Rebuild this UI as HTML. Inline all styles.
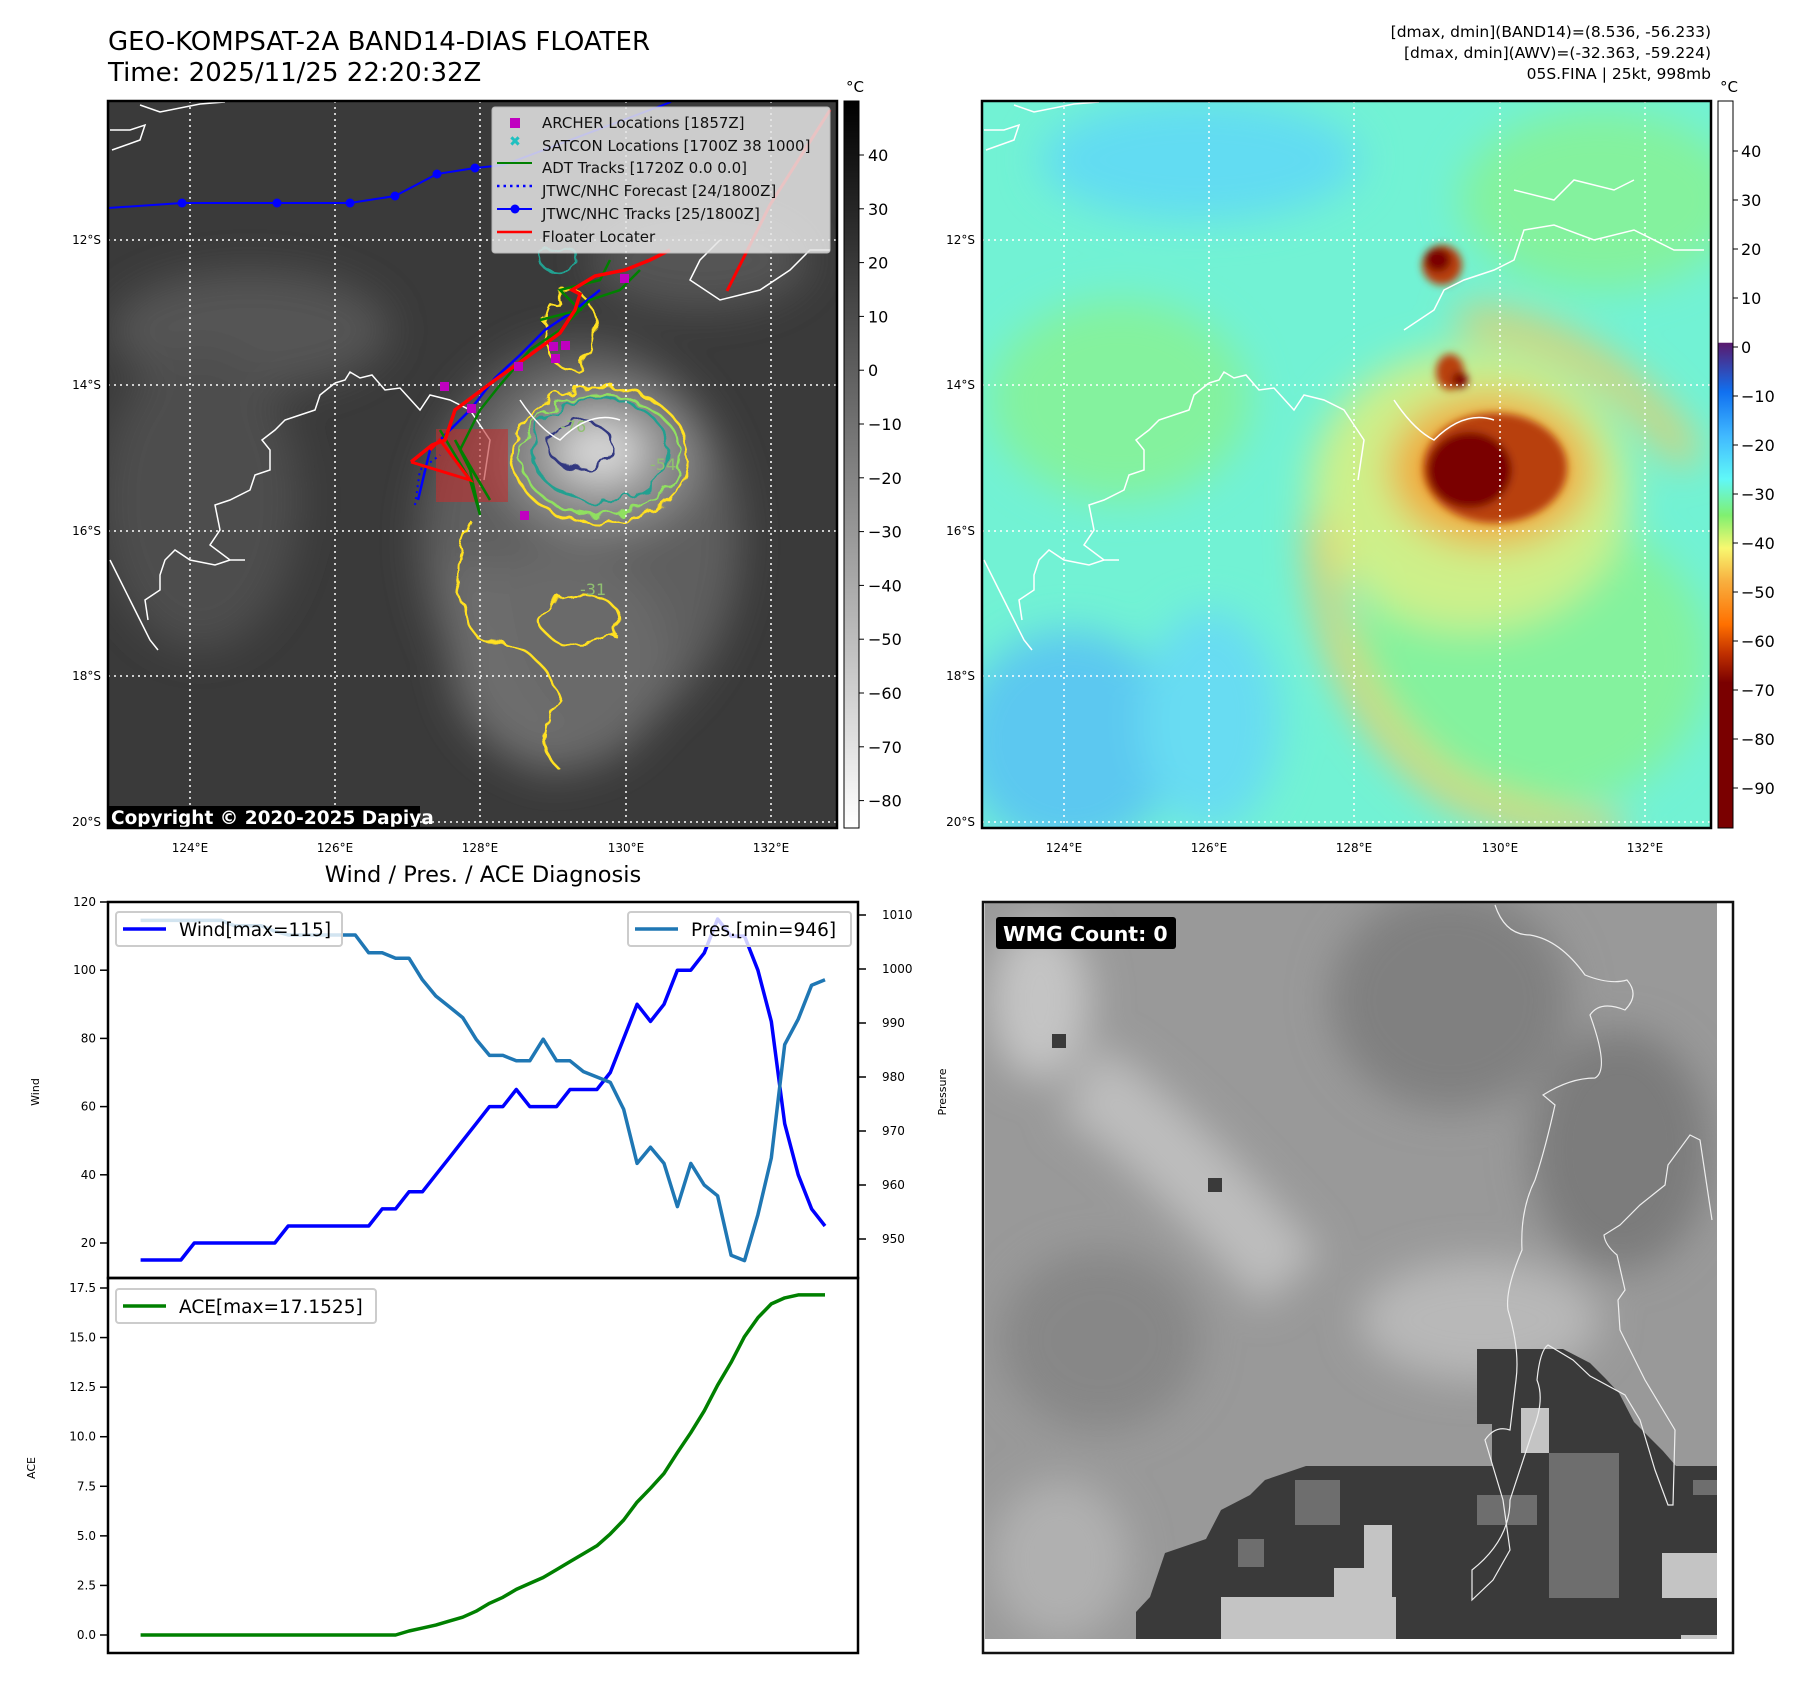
<!DOCTYPE html>
<html><head><meta charset="utf-8"><style>
html,body{margin:0;padding:0;background:#fff;}
svg{display:block;font-family:"DejaVu Sans","Liberation Sans",sans-serif;}
</style></head><body>
<svg id="root" width="1801" height="1690" viewBox="0 0 1801 1690" xmlns="http://www.w3.org/2000/svg">
<defs>
  <filter id="blur20" x="-50%" y="-50%" width="200%" height="200%"><feGaussianBlur stdDeviation="20"/></filter>
  <filter id="blur8" x="-50%" y="-50%" width="200%" height="200%"><feGaussianBlur stdDeviation="8"/></filter>
  <filter id="blur4" x="-50%" y="-50%" width="200%" height="200%"><feGaussianBlur stdDeviation="4"/></filter>
  <filter id="wobble" x="-20%" y="-20%" width="140%" height="140%"><feTurbulence type="fractalNoise" baseFrequency="0.06" numOctaves="2" seed="3"/><feDisplacementMap in="SourceGraphic" scale="16"/></filter>
  <clipPath id="clipL"><rect x="108" y="101" width="729" height="727"/></clipPath>
  <clipPath id="clipR"><rect x="982" y="101" width="729" height="727"/></clipPath>
  <clipPath id="clipB"><rect x="985" y="903" width="732" height="736"/></clipPath>
  <linearGradient id="cbGray" x1="0" y1="0" x2="0" y2="1"><stop offset="0" stop-color="#000"/><stop offset="1" stop-color="#fff"/></linearGradient>
  <linearGradient id="cbJet" x1="0" y1="0" x2="0" y2="1">
    <stop offset="0" stop-color="#fff"/><stop offset="0.332" stop-color="#fff"/>
    <stop offset="0.333" stop-color="#5a1a6e"/>
    <stop offset="0.40" stop-color="#1070f0"/>
    <stop offset="0.46" stop-color="#40b8ff"/>
    <stop offset="0.52" stop-color="#60f8f8"/>
    <stop offset="0.57" stop-color="#80f070"/>
    <stop offset="0.615" stop-color="#f8f870"/>
    <stop offset="0.66" stop-color="#f8b040"/>
    <stop offset="0.72" stop-color="#ff7000"/>
    <stop offset="0.76" stop-color="#c03000"/>
    <stop offset="0.80" stop-color="#7a0000"/>
    <stop offset="1" stop-color="#7a0000"/>
  </linearGradient>
</defs>

<!-- Titles -->
<text x="108" y="50" font-size="26">GEO-KOMPSAT-2A BAND14-DIAS FLOATER</text>
<text x="108" y="81" font-size="26">Time: 2025/11/25 22:20:32Z</text>
<g font-size="15.5" text-anchor="end">
<text x="1711" y="37">[dmax, dmin](BAND14)=(8.536, -56.233)</text>
<text x="1711" y="58">[dmax, dmin](AWV)=(-32.363, -59.224)</text>
<text x="1711" y="79">05S.FINA | 25kt, 998mb</text>
</g>

<!-- LEFT MAP -->
<g clip-path="url(#clipL)">
  <rect x="108" y="101" width="729" height="727" fill="#3a3a3a"/>
  <g filter="url(#blur20)">
    <ellipse cx="250" cy="330" rx="140" ry="60" fill="#555"/>
    <ellipse cx="200" cy="500" rx="100" ry="150" fill="#4e4e4e"/>
    <ellipse cx="580" cy="540" rx="160" ry="200" fill="#5e5e5e"/>
    <ellipse cx="560" cy="660" rx="110" ry="110" fill="#6a6a6a"/>
    <ellipse cx="600" cy="460" rx="100" ry="75" fill="#8a8a8a"/>
    <ellipse cx="600" cy="452" rx="45" ry="32" fill="#d8d8d8"/>
    <ellipse cx="700" cy="260" rx="110" ry="50" fill="#555"/>
    <path d="M470 560 Q470 700 560 760" stroke="#6e6e6e" stroke-width="40" fill="none"/>
  </g>
  <g fill="none" stroke-width="2.5" filter="url(#wobble)">
    <ellipse cx="600" cy="455" rx="88" ry="68" stroke="#ffe020"/>
    <ellipse cx="600" cy="455" rx="80" ry="60" stroke="#90e060"/>
    <ellipse cx="600" cy="450" rx="68" ry="52" stroke="#20a090"/>
    <ellipse cx="580" cy="445" rx="32" ry="24" stroke="#303880"/>
    <path d="M470 520 Q440 580 480 640 Q540 640 560 700 Q530 740 560 770" stroke="#ffe020"/>
    <ellipse cx="580" cy="620" rx="40" ry="25" stroke="#ffe020"/>
    <ellipse cx="570" cy="330" rx="25" ry="40" stroke="#ffe020"/>
    <ellipse cx="560" cy="260" rx="20" ry="12" stroke="#20a090"/>
  </g>
  <g fill="#90c070" font-size="16"><text x="560" y="432">-76</text><text x="650" y="470">-54</text><text x="580" y="595">-31</text></g>
  <g fill="none" stroke="#fff" stroke-width="1.5">
    <path d="M140 105 L160 112 L200 104 L225 102"/><path d="M112 150 L140 140 L145 125 L130 130 L110 130"/>
    <path d="M335 383 L345 380 L350 372 L360 378 L372 375 L385 390 L400 388 L420 410 L430 395 L450 400 L470 410 L480 425 L490 440 L484 480"/>
    <path d="M335 383 L320 395 L315 410 L300 415 L285 420 L275 430 L262 440 L270 450 L270 470 L255 475 L250 490 L230 500 L215 505 L220 530 L210 545 L230 560 L245 560"/>
    <path d="M230 560 L215 565 L190 560 L175 550 L165 560 L160 575 L160 590 L145 600 L148 620"/>
    <path d="M110 560 L120 580 L130 600 L140 620 L150 640 L158 650"/>
    <path d="M520 400 Q540 430 560 440 Q590 410 620 420"/>
    <path d="M720 240 L700 260 L690 280 L720 300 L760 290 L790 270 L810 250 L830 250"/>
  </g>
  <g stroke="#fff" stroke-width="1.5" stroke-dasharray="2,4">
    <line x1="190" y1="101" x2="190" y2="828"/><line x1="335" y1="101" x2="335" y2="828"/><line x1="480" y1="101" x2="480" y2="828"/><line x1="626" y1="101" x2="626" y2="828"/><line x1="771" y1="101" x2="771" y2="828"/>
    <line x1="108" y1="240" x2="837" y2="240"/><line x1="108" y1="385" x2="837" y2="385"/><line x1="108" y1="531" x2="837" y2="531"/><line x1="108" y1="676" x2="837" y2="676"/><line x1="108" y1="822" x2="837" y2="822"/>
  </g>
  <rect x="436" y="429" width="72" height="73" fill="#c03030" opacity="0.6"/>
  <polyline points="108,208 182,203 277,203 350,203 395,196 437,174 475,168 504,165 671,102" fill="none" stroke="#0000ff" stroke-width="2"/>
  <g fill="#0000ff"><circle cx="182" cy="203" r="4.5"/><circle cx="277" cy="203" r="4.5"/><circle cx="350" cy="203" r="4.5"/><circle cx="395" cy="196" r="4.5"/><circle cx="437" cy="174" r="4.5"/><circle cx="475" cy="168" r="4.5"/></g>
  <polyline points="418,500 430,450 450,430 470,410 495,378 520,355 545,330 575,310 600,290" fill="none" stroke="#0000ff" stroke-width="2.5"/>
  <polyline points="415,505 420,470 440,455" fill="none" stroke="#0000ff" stroke-width="2" stroke-dasharray="2,4"/>
  <g fill="none" stroke="#008000" stroke-width="2.5">
    <polyline points="440,430 470,480 480,515 470,470 455,440 490,500 460,450 480,410 500,385 530,350 560,330 590,300 620,290 640,270"/>
    <polyline points="540,320 580,310 560,290 600,280 610,260"/>
  </g>
  <polyline points="411,462 432,445 445,440 455,410 475,395 495,380 530,355 560,333 575,310 580,294 572,290 595,276 625,270 650,260 670,250" fill="none" stroke="#ff0000" stroke-width="3.5"/>
  <polyline points="411,462 470,480 440,440 430,450" fill="none" stroke="#ff0000" stroke-width="3"/>
  <polyline points="727,291 770,205 830,110" fill="none" stroke="#ff0000" stroke-width="3"/>
  <g fill="#c000c0"><rect x="440" y="382" width="9" height="9"/><rect x="514" y="362" width="9" height="9"/><rect x="549" y="342" width="9" height="9"/><rect x="561" y="341" width="9" height="9"/><rect x="551" y="354" width="9" height="9"/><rect x="620" y="274" width="9" height="9"/><rect x="520" y="511" width="9" height="9"/><rect x="467" y="404" width="9" height="9"/></g>
  <rect x="108" y="806" width="312" height="24" fill="#000"/>
  <text x="111" y="824" font-size="18.5" font-weight="bold" fill="#fff">Copyright © 2020-2025 Dapiya</text>
  <g>
    <rect x="492" y="107" width="338" height="146" rx="3" fill="#e6e6e6" opacity="0.85" stroke="#ccc"/>
    <rect x="510" y="118" width="10" height="10" fill="#c000c0"/>
    <text x="515" y="146" font-size="14" fill="#20c0c0" text-anchor="middle" font-weight="bold">✖</text>
    <line x1="497" y1="163" x2="532" y2="163" stroke="#008000" stroke-width="2"/>
    <line x1="497" y1="186" x2="532" y2="186" stroke="#0000ff" stroke-width="2.5" stroke-dasharray="2.5,4"/>
    <line x1="497" y1="209" x2="532" y2="209" stroke="#0000ff" stroke-width="2"/><circle cx="515" cy="209" r="4.5" fill="#0000ff"/>
    <line x1="497" y1="232" x2="532" y2="232" stroke="#ff0000" stroke-width="2.5"/>
    <g font-size="15" fill="#111">
      <text x="542" y="128">ARCHER Locations [1857Z]</text>
      <text x="542" y="151">SATCON Locations [1700Z 38 1000]</text>
      <text x="542" y="173">ADT Tracks [1720Z 0.0 0.0]</text>
      <text x="542" y="196">JTWC/NHC Forecast [24/1800Z]</text>
      <text x="542" y="219">JTWC/NHC Tracks [25/1800Z]</text>
      <text x="542" y="242">Floater Locater</text>
    </g>
  </g>
</g>
<rect x="108" y="101" width="729" height="727" fill="none" stroke="#000" stroke-width="2.5"/>

<!-- RIGHT MAP -->
<g clip-path="url(#clipR)">
  <rect x="982" y="101" width="729" height="727" fill="#72f2d4"/>
  <g filter="url(#blur20)">
    <ellipse cx="1200" cy="160" rx="160" ry="60" fill="#62dcf2"/>
    <ellipse cx="1070" cy="740" rx="110" ry="110" fill="#5cc8f0"/>
    <ellipse cx="1210" cy="720" rx="70" ry="110" fill="#68dcf2"/>
    <ellipse cx="1120" cy="400" rx="130" ry="100" fill="#84f29e"/>
    <ellipse cx="1600" cy="200" rx="140" ry="90" fill="#84f29e"/>
    <ellipse cx="1530" cy="660" rx="180" ry="150" fill="#84f29e"/>
    <ellipse cx="1470" cy="490" rx="160" ry="140" fill="#cdf08a"/>
    <path d="M1320 520 Q1320 700 1450 790 Q1530 830 1620 830" stroke="#f0c860" stroke-width="24" fill="none"/>
    <path d="M1460 320 Q1600 330 1690 460" stroke="#f0c860" stroke-width="26" fill="none"/>
    <ellipse cx="1490" cy="470" rx="100" ry="75" fill="#f0a838"/>
  </g>
  <g filter="url(#blur4)">
    <ellipse cx="1495" cy="468" rx="72" ry="55" fill="#b84010"/>
    <ellipse cx="1470" cy="470" rx="42" ry="38" fill="#7a0000"/>
    <ellipse cx="1442" cy="265" rx="20" ry="20" fill="#b84010"/>
    <ellipse cx="1438" cy="260" rx="13" ry="12" fill="#7a0000"/>
    <ellipse cx="1450" cy="372" rx="14" ry="18" fill="#b84010"/>
    <ellipse cx="1460" cy="380" rx="8" ry="8" fill="#7a0000"/>
  </g>
  <g fill="none" stroke="#fff" stroke-width="1.5" transform="translate(874,0)">
    <path d="M140 105 L160 112 L200 104 L225 102"/><path d="M112 150 L140 140 L145 125 L130 130 L110 130"/>
    <path d="M335 383 L345 380 L350 372 L360 378 L372 375 L385 390 L400 388 L420 410 L430 395 L450 400 L470 410 L480 425 L490 440 L484 480"/>
    <path d="M335 383 L320 395 L315 410 L300 415 L285 420 L275 430 L262 440 L270 450 L270 470 L255 475 L250 490 L230 500 L215 505 L220 530 L210 545 L230 560 L245 560"/>
    <path d="M230 560 L215 565 L190 560 L175 550 L165 560 L160 575 L160 590 L145 600 L148 620"/>
    <path d="M110 560 L120 580 L130 600 L140 620 L150 640 L158 650"/>
    <path d="M520 400 Q540 430 560 440 Q590 410 620 420"/>
    <path d="M530 330 L560 310 L570 290 L590 280 L620 270 L640 260 L650 230 L680 225 L720 240 L760 230 L800 250 L830 250"/>
    <path d="M640 190 L680 200 L700 180 L740 190 L760 180"/>
  </g>
  <g stroke="#fff" stroke-width="1.5" stroke-dasharray="2,4" transform="translate(874,0)">
    <line x1="190" y1="101" x2="190" y2="828"/><line x1="335" y1="101" x2="335" y2="828"/><line x1="480" y1="101" x2="480" y2="828"/><line x1="626" y1="101" x2="626" y2="828"/><line x1="771" y1="101" x2="771" y2="828"/>
    <line x1="108" y1="240" x2="837" y2="240"/><line x1="108" y1="385" x2="837" y2="385"/><line x1="108" y1="531" x2="837" y2="531"/><line x1="108" y1="676" x2="837" y2="676"/><line x1="108" y1="822" x2="837" y2="822"/>
  </g>
</g>
<rect x="982" y="101" width="729" height="727" fill="none" stroke="#000" stroke-width="2.5"/>

<g font-size="12" fill="#000">
  <g text-anchor="end"><text x="101" y="244">12°S</text><text x="101" y="389">14°S</text><text x="101" y="535">16°S</text><text x="101" y="680">18°S</text><text x="101" y="826">20°S</text>
  <text x="975" y="244">12°S</text><text x="975" y="389">14°S</text><text x="975" y="535">16°S</text><text x="975" y="680">18°S</text><text x="975" y="826">20°S</text></g>
  <g text-anchor="middle"><text x="190" y="852">124°E</text><text x="335" y="852">126°E</text><text x="480" y="852">128°E</text><text x="626" y="852">130°E</text><text x="771" y="852">132°E</text>
  <text x="1064" y="852">124°E</text><text x="1209" y="852">126°E</text><text x="1354" y="852">128°E</text><text x="1500" y="852">130°E</text><text x="1645" y="852">132°E</text></g>
</g>

<g id="cbL"><rect x="844" y="101" width="15" height="727" fill="url(#cbGray)" stroke="#000" stroke-width="1"/><text x="855" y="92" font-size="15" text-anchor="middle">°C</text></g>
<g id="cbR"><rect x="1718" y="101" width="15" height="727" fill="url(#cbJet)" stroke="#000" stroke-width="1"/><text x="1729" y="92" font-size="15" text-anchor="middle">°C</text></g>

<g>
  <g clip-path="url(#clipB)">
    <rect x="985" y="903" width="732" height="736" fill="#999"/>
    <g filter="url(#blur20)">
      <ellipse cx="1040" cy="1000" rx="50" ry="80" fill="#c4c4c4"/>
      <path d="M1080 1080 Q1150 1120 1290 1280" stroke="#bdbdbd" stroke-width="80" fill="none"/>
      <ellipse cx="1450" cy="1000" rx="120" ry="110" fill="#808080"/>
      <ellipse cx="1620" cy="1150" rx="90" ry="120" fill="#7c7c7c"/>
      <ellipse cx="1100" cy="1340" rx="100" ry="90" fill="#878787"/>
      <ellipse cx="1480" cy="1320" rx="120" ry="60" fill="#b8b8b8"/>
      <ellipse cx="1060" cy="1560" rx="70" ry="80" fill="#b0b0b0"/>
    </g>
    <path d="M1136 1639 L1136 1612 L1150 1597 L1165 1553 L1206 1539 L1221 1510 L1250 1495 L1265 1480 L1306 1466 L1492 1466 L1492 1424 L1477 1424 L1477 1349 L1563 1349 L1590 1363 L1605 1378 L1619 1393 L1634 1422 L1649 1437 L1663 1451 L1676 1466 L1717 1466 L1717 1639 Z" fill="#3a3a3a"/>
    <g fill="#c4c4c4"><rect x="1221" y="1597" width="175" height="42"/><rect x="1334" y="1568" width="58" height="30"/><rect x="1364" y="1525" width="28" height="43"/><rect x="1521" y="1408" width="28" height="45"/><rect x="1662" y="1553" width="55" height="45"/><rect x="1681" y="1635" width="36" height="4"/></g>
    <g fill="#6e6e6e"><rect x="1549" y="1453" width="70" height="145"/><rect x="1477" y="1495" width="60" height="30"/><rect x="1295" y="1480" width="45" height="45"/><rect x="1238" y="1539" width="26" height="28"/><rect x="1693" y="1480" width="24" height="15"/></g>
    <rect x="1052" y="1034" width="14" height="14" fill="#3a3a3a"/><rect x="1208" y="1178" width="14" height="14" fill="#3a3a3a"/>
    <path d="M1495 905 Q1505 935 1530 935 Q1560 940 1585 975 Q1610 985 1627 980 Q1640 995 1625 1010 Q1600 1000 1590 1015 Q1610 1070 1595 1078 Q1570 1078 1543 1095 L1555 1105 Q1545 1150 1535 1180 Q1520 1210 1522 1250 Q1505 1290 1508 1310 Q1520 1350 1516 1380 Q1510 1430 1510 1430 Q1495 1425 1485 1440 L1503 1500 L1510 1550 L1493 1580 L1472 1600 L1472 1570 Q1510 1540 1510 1500 L1533 1430 Q1545 1400 1537 1380 Q1540 1350 1548 1345 L1573 1360 L1590 1376 L1625 1395 L1640 1420 L1655 1470 L1668 1505 L1673 1505 L1675 1430 L1645 1380 L1620 1330 L1618 1300 L1625 1290 L1617 1255 Q1605 1245 1604 1235 L1620 1225 L1640 1205 L1665 1185 L1668 1165 L1690 1135 L1700 1140 L1712 1220" fill="none" stroke="#eee" stroke-width="1.2"/>
  </g>
  <rect x="983" y="902" width="750" height="751" fill="none" stroke="#111" stroke-width="2.5"/>
  <rect x="996" y="917" width="180" height="32" rx="3" fill="#000"/>
  <text x="1003" y="941" font-size="20.5" font-weight="bold" fill="#fff">WMG Count: 0</text>
</g>

<text x="483" y="882" font-size="22.5" text-anchor="middle">Wind / Pres. / ACE Diagnosis</text>
<g id="chart"></g>
</svg>
<script>
const wind = [15,15,15,15,20,20,20,20,20,20,20,25,25,25,25,25,25,25,30,30,35,35,40,45,50,55,60,60,65,60,60,60,65,65,65,70,80,90,85,90,100,100,105,115,110,110,100,85,55,40,30,25];
const pressure = [1009,1009,1009,1009,1009,1009,1009,1008,1008,1008,1007,1006.3,1006.3,1006.3,1006.3,1006.3,1006.3,1003,1003,1002,1002,998,995,993,991,987,984,984,983,983,987,983,983,981,980,979,974,964,967,964,956,964,960,958,947,946,954.5,965,986,990.7,997,998];
const ace = [0,0,0,0,0,0,0,0,0,0,0,0,0,0,0,0,0,0,0,0,0.2,0.35,0.5,0.7,0.9,1.2,1.6,1.9,2.3,2.6,2.9,3.3,3.7,4.1,4.5,5.1,5.8,6.7,7.4,8.15,9.2,10.2,11.3,12.6,13.75,15.05,16.0,16.7,17.0,17.15,17.15,17.15];
const windTicks = [20,40,60,80,100,120];
const presTicks = [950,960,970,980,990,1000,1010];
const aceTicks = [0,2.5,5,7.5,10,12.5,15,17.5];
const irTicks = [40,30,20,10,0,-10,-20,-30,-40,-50,-60,-70,-80];
const wvTicks = [40,30,20,10,0,-10,-20,-30,-40,-50,-60,-70,-80,-90];

const NS='http://www.w3.org/2000/svg';
function mk(tag, attrs, parent){const e=document.createElementNS(NS,tag);for(const k in attrs)e.setAttribute(k,attrs[k]);parent.appendChild(e);return e;}
const xS = i => 140.6 + i*(825-140.6)/(wind.length-1);
const yW = v => 902 + (120-v)*341/100;
const yP = v => 915 + (1010-v)*(1239-915)/60;
const yA = v => 1635 - v*(1635-1288)/17.5;
const chart = document.getElementById('chart');

let f1 = mk('rect',{x:108,y:902,width:750,height:376,fill:'none',stroke:'#000','stroke-width':2.5},chart);


let f2 = mk('rect',{x:108,y:1278,width:750,height:375,fill:'none',stroke:'#000','stroke-width':2.5},chart);



windTicks.forEach(t=>{const y=yW(t);
  mk('line',{x1:100,y1:y,x2:108,y2:y,stroke:'#000','stroke-width':1.5},chart);
  const tx=mk('text',{x:96,y:y+4,'font-size':12,'text-anchor':'end'},chart);tx.textContent=t;
  
  });
presTicks.forEach(t=>{const y=yP(t);
  mk('line',{x1:858,y1:y,x2:866,y2:y,stroke:'#000','stroke-width':1.5},chart);
  const tx=mk('text',{x:882,y:y+4,'font-size':12},chart);tx.textContent=t;
  
  });
aceTicks.forEach(t=>{const y=yA(t);
  mk('line',{x1:100,y1:y,x2:108,y2:y,stroke:'#000','stroke-width':1.5},chart);
  const tx=mk('text',{x:96,y:y+4,'font-size':12,'text-anchor':'end'},chart);tx.textContent=t.toFixed(1);
  
  });

function lbl(txt,x,y,name){const t=mk('text',{x:x,y:y,'font-size':11,'text-anchor':'middle',transform:`rotate(-90 ${x} ${y})`},chart);t.textContent=txt;
  
  }
lbl('Wind',39,1092,'wind-axis-title');lbl('Pressure',946,1092,'pressure-axis-title');lbl('ACE',35,1468,'ace-axis-title');

function line(arr,yf,color,name){const pts=arr.map((v,i)=>xS(i).toFixed(1)+','+yf(v).toFixed(1)).join(' ');
  const p=mk('polyline',{points:pts,fill:'none',stroke:color,'stroke-width':3.5,'stroke-linejoin':'round'},chart);
  
  }
line(wind,yW,'#0000ff','wind-line');
line(pressure,yP,'#1f77b4','pressure-line');
line(ace,yA,'#008000','ace-line');

function legend(x,y,w,color,txt,name){const g=mk('g',{},chart);
  
  
  mk('rect',{x:x,y:y,width:w,height:34,rx:3,fill:'#fff','fill-opacity':0.8,stroke:'#ccc','stroke-width':2},g);
  mk('line',{x1:x+7,y1:y+17,x2:x+50,y2:y+17,stroke:color,'stroke-width':3.5},g);
  const t=mk('text',{x:x+63,y:y+24,'font-size':18.5},g);t.textContent=txt;}
legend(116,912,226,'#0000ff','Wind[max=115]','wind-legend');
legend(628,912,223,'#1f77b4','Pres.[min=946]','pressure-legend');
legend(116,1289,260,'#008000','ACE[max=17.1525]','ace-legend');

const cbL=document.getElementById('cbL'), cbR=document.getElementById('cbR');
irTicks.forEach(t=>{const y=155+(40-t)*5.38;
  mk('line',{x1:859,y1:y,x2:864,y2:y,stroke:'#000'},cbL);
  const tx=mk('text',{x:868,y:y+6,'font-size':16},cbL);tx.textContent=t<0?'\u2212'+(-t):t;
  
  });
wvTicks.forEach(t=>{const y=151+(40-t)*4.9;
  mk('line',{x1:1733,y1:y,x2:1738,y2:y,stroke:'#000'},cbR);
  const tx=mk('text',{x:1741,y:y+6,'font-size':16},cbR);tx.textContent=t<0?'\u2212'+(-t):t;
  
  });
</script>
</body></html>
